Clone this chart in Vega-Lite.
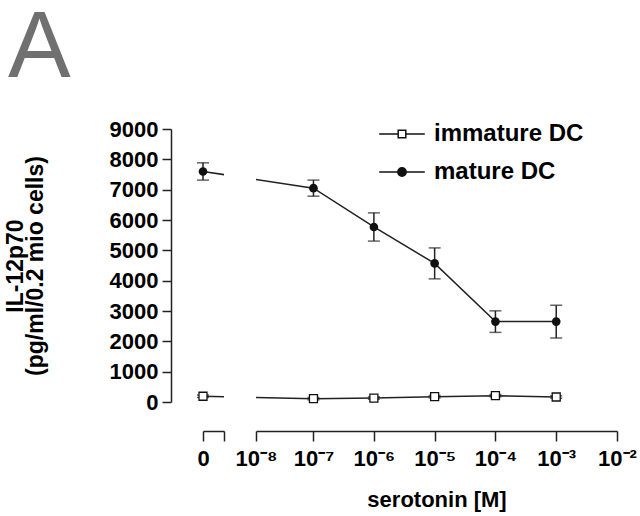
{
  "$schema": "https://vega.github.io/schema/vega-lite/v6.json",
  "background": "white",
  "padding": {"left": 4, "top": 2, "right": 2, "bottom": 4},
  "title": {"text": "A", "anchor": "start", "frame": "bounds", "fontSize": 94, "font": "Liberation Sans", "fontWeight": "normal", "color": "#707070", "offset": 17, "dx": 4},
  "datasets": {
    "il12": [
      {"cell": "immature DC", "conc": 0, "il12": 190, "err": 40},
      {"cell": "immature DC", "conc": 1e-7, "il12": 110, "err": 40},
      {"cell": "immature DC", "conc": 1e-6, "il12": 130, "err": 40},
      {"cell": "immature DC", "conc": 1e-5, "il12": 175, "err": 40},
      {"cell": "immature DC", "conc": 1e-4, "il12": 210, "err": 40},
      {"cell": "immature DC", "conc": 1e-3, "il12": 165, "err": 40},
      {"cell": "mature DC", "conc": 0, "il12": 7600, "err": 285},
      {"cell": "mature DC", "conc": 1e-7, "il12": 7050, "err": 265},
      {"cell": "mature DC", "conc": 1e-6, "il12": 5770, "err": 465},
      {"cell": "mature DC", "conc": 1e-5, "il12": 4570, "err": 510},
      {"cell": "mature DC", "conc": 1e-4, "il12": 2650, "err": 355},
      {"cell": "mature DC", "conc": 1e-3, "il12": 2650, "err": 540}
    ]
  },
  "data": {"name": "il12"},
  "bounds": "flush",
  "spacing": 32,
  "resolve": {"scale": {"x": "independent", "y": "independent"}},
  "hconcat": [
    {
      "width": 21,
      "height": 273,
      "encoding": {
        "x": {"field": "conc", "type": "quantitative",
          "scale": {"type": "symlog", "constant": 1.515e-9, "domain": [0, 1.84e-9], "nice": false, "zero": false},
          "axis": {"values": [0, 1.84e-9], "labelExpr": "datum.value == 0 ? '0' : ''", "tickSize": 10, "offset": 29, "labelPadding": 7, "labelFlush": false, "labelOverlap": false, "title": null}},
        "y": {"field": "il12", "type": "quantitative",
          "scale": {"domain": [0, 9000], "nice": false},
          "axis": {"values": [0, 1000, 2000, 3000, 4000, 5000, 6000, 7000, 8000, 9000], "format": "d", "offset": 32, "tickSize": 9, "labelPadding": 4, "title": ["IL-12p70", "(pg/ml/0.2 mio cells)"], "titleFontSize": 23, "titleLineHeight": 20, "titlePadding": 62}}
      },
      "layer": [
        {"mark": {"type": "line", "clip": true, "color": "#222", "strokeWidth": 1.5},
         "encoding": {"detail": {"field": "cell"}}},
        {"transform": [{"filter": "datum.conc == 0"}],
         "mark": {"type": "errorbar", "ticks": {"size": 12}, "color": "#222", "thickness": 1.5},
         "encoding": {"yError": {"field": "err"}, "detail": {"field": "cell"}}},
        {"transform": [{"filter": "datum.conc == 0 && datum.cell == 'immature DC'"}],
         "mark": {"type": "point", "shape": "square", "filled": true, "fill": "white", "stroke": "#111", "strokeWidth": 1.3, "size": 64, "opacity": 1}},
        {"transform": [{"filter": "datum.conc == 0 && datum.cell == 'mature DC'"}],
         "mark": {"type": "point", "shape": "circle", "filled": true, "color": "#111", "size": 75, "opacity": 1}}
      ]
    },
    {
      "width": 361,
      "height": 273,
      "encoding": {
        "x": {"field": "conc", "type": "quantitative",
          "scale": {"type": "symlog", "constant": 1.515e-9, "domain": [1e-8, 1e-2], "nice": false, "zero": false},
          "axis": {"values": [1e-8, 1e-7, 1e-6, 1e-5, 1e-4, 1e-3, 1e-2],
            "labelExpr": "datum.value < 5e-8 ? '10⁻⁸' : datum.value < 5e-7 ? '10⁻⁷' : datum.value < 5e-6 ? '10⁻⁶' : datum.value < 5e-5 ? '10⁻⁵' : datum.value < 5e-4 ? '10⁻⁴' : datum.value < 5e-3 ? '10⁻³' : '10⁻²'",
            "tickSize": 10, "offset": 29, "labelPadding": 7, "labelFlush": false, "labelOverlap": false,
            "title": "serotonin [M]", "titleFontSize": 22, "titlePadding": 20}},
        "y": {"field": "il12", "type": "quantitative", "scale": {"domain": [0, 9000], "nice": false}, "axis": null}
      },
      "layer": [
        {"mark": {"type": "line", "clip": true, "color": "#222", "strokeWidth": 1.5},
         "encoding": {"detail": {"field": "cell"}}},
        {"transform": [{"filter": "datum.conc > 0"}],
         "mark": {"type": "errorbar", "ticks": {"size": 12}, "color": "#222", "thickness": 1.5},
         "encoding": {"yError": {"field": "err"}, "detail": {"field": "cell"}}},
        {"transform": [{"filter": "datum.conc > 0 && datum.cell == 'immature DC'"}],
         "mark": {"type": "point", "shape": "square", "filled": true, "fill": "white", "stroke": "#111", "strokeWidth": 1.3, "size": 64, "opacity": 1}},
        {"transform": [{"filter": "datum.conc > 0 && datum.cell == 'mature DC'"}],
         "mark": {"type": "point", "shape": "circle", "filled": true, "color": "#111", "size": 75, "opacity": 1}},
        {"transform": [{"filter": "datum.conc < 0"}],
         "mark": {"type": "point", "strokeWidth": 1.5, "opacity": 1},
         "encoding": {
           "shape": {"field": "cell", "type": "nominal",
             "scale": {"domain": ["immature DC", "mature DC"], "range": ["M-1.2,0H-0.2M0.2,0H1.2M-0.2,-0.2H0.2V0.2H-0.2Z", "M-1.2,0H-0.22M0.22,0H1.2M0.22,0A0.22,0.22 0 1,1 -0.22,0A0.22,0.22 0 1,1 0.22,0Z"]},
             "legend": {"title": null, "orient": "none", "legendX": 179, "legendY": -15,
               "symbolSize": 1444, "symbolStrokeWidth": 1.5, "symbolOpacity": 1,
               "labelFont": "Liberation Sans", "labelFontWeight": "bold", "labelFontSize": 24, "labelColor": "black",
               "labelOffset": 12, "rowPadding": 6, "padding": 0}},
           "fill": {"field": "cell", "type": "nominal",
             "scale": {"domain": ["immature DC", "mature DC"], "range": ["white", "#111"]},
             "legend": {"title": null, "orient": "none", "legendX": 179, "legendY": -15,
               "symbolSize": 1444, "symbolStrokeWidth": 1.5, "symbolOpacity": 1,
               "labelFont": "Liberation Sans", "labelFontWeight": "bold", "labelFontSize": 24, "labelColor": "black",
               "labelOffset": 12, "rowPadding": 6, "padding": 0}},
           "stroke": {"field": "cell", "type": "nominal",
             "scale": {"domain": ["immature DC", "mature DC"], "range": ["#111", "#111"]},
             "legend": {"title": null, "orient": "none", "legendX": 179, "legendY": -15,
               "symbolSize": 1444, "symbolStrokeWidth": 1.5, "symbolOpacity": 1,
               "labelFont": "Liberation Sans", "labelFontWeight": "bold", "labelFontSize": 24, "labelColor": "black",
               "labelOffset": 12, "rowPadding": 6, "padding": 0}}
         }}
      ]
    }
  ],
  "config": {
    "view": {"stroke": null},
    "axis": {"labelFont": "Liberation Sans", "labelFontWeight": "bold", "labelFontSize": 22, "labelColor": "black",
      "domainColor": "#222", "tickColor": "#222", "domainWidth": 1.5, "tickWidth": 1.5, "grid": false,
      "titleFont": "Liberation Sans", "titleFontWeight": "bold", "titleColor": "black"}
  }
}
